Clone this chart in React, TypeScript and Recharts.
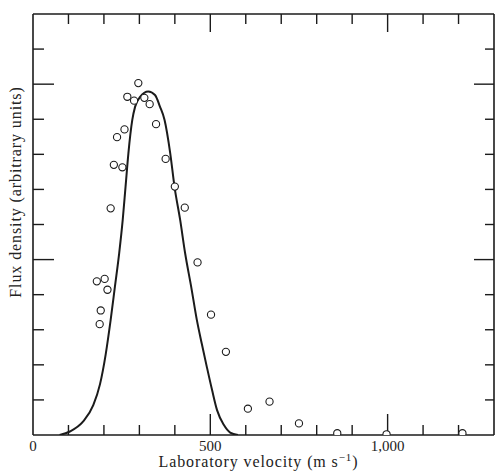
import React from 'react'
import { ComposedChart, Line, Scatter, XAxis, YAxis, ReferenceLine } from 'recharts'

// fitted curve (velocity m/s, flux)
const curveV = [75, 104, 141, 170, 189, 205, 219, 231, 243, 253, 261, 269, 280, 288, 302, 325, 344, 358, 371, 387, 399, 415, 429, 446, 462, 476, 490, 505, 519, 538, 556, 578]
const curveF = [0, 0.1, 0.38, 0.85, 1.45, 2.3, 3.28, 4.23, 5.18, 6.13, 7.08, 8.03, 8.98, 9.36, 9.64, 9.79, 9.69, 9.36, 8.98, 8.03, 7.08, 6.13, 5.18, 4.23, 3.28, 2.6, 1.95, 1.28, 0.71, 0.29, 0.07, 0]

// measured points
const pointV = [180, 202, 210, 191, 188, 219, 228, 252, 237, 258, 266, 285, 297, 314, 329, 347, 374, 400, 428, 464, 502, 544, 606, 667, 750, 858, 997, 1211]
const pointF = [4.38, 4.45, 4.14, 3.55, 3.16, 6.46, 7.7, 7.63, 8.49, 8.71, 9.64, 9.53, 10.03, 9.61, 9.43, 8.86, 7.87, 7.08, 6.48, 4.92, 3.43, 2.37, 0.75, 0.95, 0.33, 0.05, 0.02, 0.05]

const xLabelTicks = [0, 500, 1000]
const xTicks = [100, 200, 300, 400, 500, 600, 700, 800, 900, 1000, 1100, 1200]
const xMajor = [500, 1000]
const yTicks = [1, 2, 3, 4, 5, 6, 7, 8, 9, 10, 11]
const yMajor = [5, 10]

const X_MAX = 1300
const Y_MAX = 12

const ink = '#1b1b1b'
const serif = '"Liberation Serif", "DejaVu Serif", serif'

const curve = curveV.map((v, i) => ({ v, f: curveF[i] }))
const points = pointV.map((v, i) => ({ v, f: pointF[i] }))

// px -> data units (plot is 461px wide for 1300, 421px tall for 12)
const xu = X_MAX / 461
const yu = Y_MAX / 421

const Ring = (props: { cx?: number; cy?: number }) => {
  if (props.cx == null || props.cy == null) return null
  return <circle cx={props.cx} cy={props.cy} r={3.6} fill="#fff" stroke={ink} strokeWidth={1.1} />
}

const XTitle = (props: any) => {
  const vb = props.viewBox || {}
  const cx = vb.x + vb.width / 2 - 5
  return (
    <text x={cx} y={467} textAnchor="middle" fill="#222" fontSize={16} fontFamily={serif} letterSpacing={0.9}>
      Laboratory velocity (m s
      <tspan dy={-6} fontSize={11}>−1</tspan>
      <tspan dy={6}>)</tspan>
    </text>
  )
}

const YTitle = () => (
  <text
    x={15}
    y={192}
    transform="rotate(-90 15 192)"
    textAnchor="middle"
    dominantBaseline="central"
    fill="#222"
    fontSize={16}
    fontFamily={serif}
    letterSpacing={0.9}
  >
    Flux density (arbitrary units)
  </text>
)

const seg = (a: [number, number], b: [number, number]) => [
  { x: a[0], y: a[1] },
  { x: b[0], y: b[1] },
]

export default function App() {
  const tickLines: React.ReactNode[] = []
  xTicks.forEach((t) => {
    const big = xMajor.includes(t)
    const lb = (big ? 21 : 10) * yu
    const lt = (big ? 18 : 10) * yu
    tickLines.push(
      <ReferenceLine key={'b' + t} segment={seg([t, 0], [t, lb])} stroke={ink} strokeWidth={1.4} />,
      <ReferenceLine key={'t' + t} segment={seg([t, Y_MAX], [t, Y_MAX - lt])} stroke={ink} strokeWidth={1.4} />
    )
  })
  yTicks.forEach((t) => {
    const big = yMajor.includes(t)
    const ll = (big ? 21 : 11) * xu
    const lr = (big ? 20 : 9) * xu
    tickLines.push(
      <ReferenceLine key={'l' + t} segment={seg([0, t], [ll, t])} stroke={ink} strokeWidth={1.4} />,
      <ReferenceLine key={'r' + t} segment={seg([X_MAX, t], [X_MAX - lr, t])} stroke={ink} strokeWidth={1.4} />
    )
  })

  return (
    <div style={{ position: 'absolute', left: 0, top: 0, background: '#fff' }}>
      <ComposedChart width={495} height={474} margin={{ top: 14, right: 1, bottom: 0, left: 0 }}>
        <XAxis
          dataKey="v"
          type="number"
          domain={[0, X_MAX]}
          ticks={xLabelTicks}
          allowDataOverflow
          tickLine={false}
          tickSize={0}
          tickMargin={5}
          height={39}
          axisLine={{ stroke: ink, strokeWidth: 1.6 }}
          tick={{ fill: '#222', fontSize: 15, fontFamily: serif }}
          tickFormatter={(v: number) => (v === 1000 ? '1,000' : String(v))}
          label={<XTitle />}
        />
        <YAxis
          dataKey="f"
          type="number"
          domain={[0, Y_MAX]}
          allowDataOverflow
          tick={false}
          tickLine={false}
          width={33}
          axisLine={{ stroke: ink, strokeWidth: 1.6 }}
          label={<YTitle />}
        />
        <ReferenceLine y={Y_MAX} stroke={ink} strokeWidth={1.6} />
        <ReferenceLine x={X_MAX} stroke={ink} strokeWidth={1.6} />
        {tickLines}
        <Line
          data={curve}
          dataKey="f"
          type="monotone"
          stroke={ink}
          strokeWidth={2}
          dot={false}
          activeDot={false}
          isAnimationActive={false}
        />
        <Scatter data={points} dataKey="f" shape={<Ring />} isAnimationActive={false} />
      </ComposedChart>
    </div>
  )
}
